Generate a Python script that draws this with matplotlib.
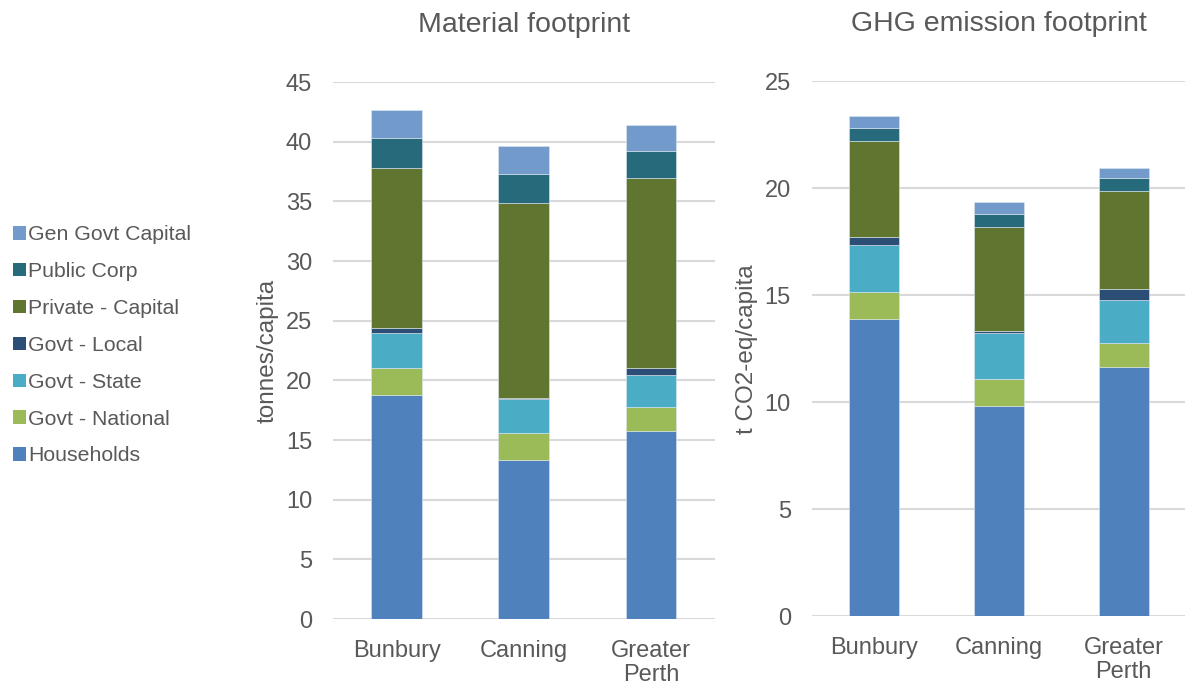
import numpy as np
import matplotlib
matplotlib.use("Agg")
import matplotlib.pyplot as plt
from matplotlib.patches import Patch

plt.rcParams["font.family"] = ["Liberation Sans", "DejaVu Sans"]

regions = ["Bunbury", "Canning", "Greater\nPerth"]
sectors = ["Households", "Govt - National", "Govt - State", "Govt - Local",
           "Private - Capital", "Public Corp", "Gen Govt Capital"]
colors = ["#4F81BD", "#9BBB59", "#4BACC6", "#2C4D75",
          "#5F7530", "#276A7C", "#729ACA"]

# tonnes/capita, per sector, for Bunbury / Canning / Greater Perth
material = {
    "Households":        [18.75, 13.33, 15.76],
    "Govt - National":   [2.25, 2.24, 2.01],
    "Govt - State":      [2.97, 2.85, 2.66],
    "Govt - Local":      [0.42, 0.08, 0.64],
    "Private - Capital": [13.45, 16.40, 15.90],
    "Public Corp":       [2.48, 2.41, 2.26],
    "Gen Govt Capital":  [2.38, 2.34, 2.18],
}

# t CO2-eq/capita
ghg = {
    "Households":        [13.88, 9.82, 11.64],
    "Govt - National":   [1.26, 1.25, 1.14],
    "Govt - State":      [2.22, 2.16, 2.01],
    "Govt - Local":      [0.36, 0.11, 0.50],
    "Private - Capital": [4.48, 4.86, 4.61],
    "Public Corp":       [0.61, 0.61, 0.57],
    "Gen Govt Capital":  [0.58, 0.54, 0.50],
}

text_color = "#595959"
grid_color = "#D9D9D9"


def stacked(ax, data, ymax, step, ylabel, title):
    x = np.arange(len(regions))
    bottom = np.zeros(len(regions))
    for name, col in zip(sectors, colors):
        vals = np.array(data[name])
        ax.bar(x, vals, 0.4, bottom=bottom, color=col,
               edgecolor="#DDE8F0", linewidth=0.4, zorder=3)
        bottom += vals
    ax.set_xlim(-0.5, 2.5)
    ax.set_ylim(0, ymax)
    ax.set_yticks(np.arange(0, ymax + 0.1, step))
    ax.set_xticks(x)
    ax.set_xticklabels(regions, linespacing=1.1)
    ax.yaxis.grid(True, color=grid_color, linewidth=1.5, zorder=0)
    for s in ax.spines.values():
        s.set_visible(False)
    ax.tick_params(length=0, labelsize=17, colors=text_color)
    ax.tick_params(axis="y", pad=15)
    ax.tick_params(axis="x", pad=15)
    ax.set_ylabel(ylabel, fontsize=17.5, color=text_color, labelpad=5)
    ax.set_title(title, fontsize=20.5, color=text_color, pad=36)


fig = plt.figure(figsize=(11.85, 6.84), dpi=100)
ax1 = fig.add_axes([0.281, 0.095, 0.322, 0.785])
ax2 = fig.add_axes([0.685, 0.099, 0.316, 0.782])

stacked(ax1, material, 45, 5, "tonnes/capita", "Material footprint")
stacked(ax2, ghg, 25, 5, "t CO2-eq/capita", "GHG emission footprint")

handles = [Patch(facecolor=c, label=n) for n, c in zip(sectors, colors)]
fig.legend(handles=handles[::-1], loc="center left",
           bbox_to_anchor=(-0.005, 0.495), frameon=False, fontsize=15.3,
           labelcolor=text_color, handlelength=0.6, handleheight=0.6,
           handletextpad=0.1, labelspacing=0.84)

fig.savefig("out.png", dpi=100)
